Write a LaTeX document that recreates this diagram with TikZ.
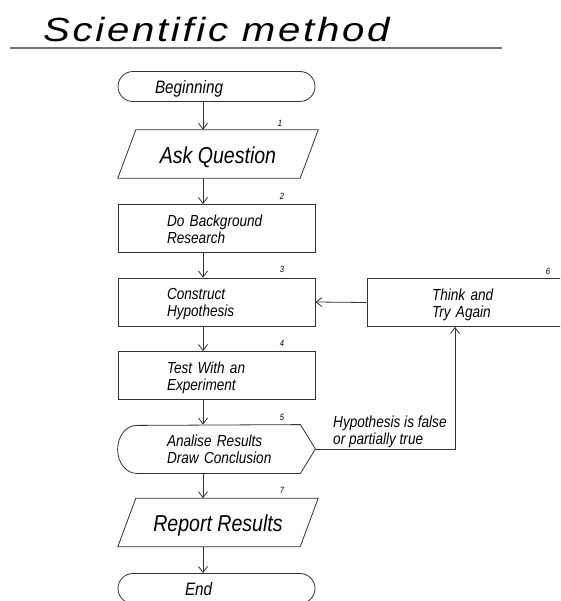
\documentclass[tikz,border=0pt]{standalone}
\usepackage{fontspec}
\setmainfont{Liberation Sans}[FakeStretch=0.85]
\newfontfamily\titlefont{Liberation Sans}[FakeStretch=1.2,LetterSpace=8]
\usetikzlibrary{arrows.meta,calc}
\newcommand{\boxtext}[2]{\hspace*{#1}\raisebox{-3pt}[\height][\depth]{\begin{tabular}[c]{@{}l@{}}#2\end{tabular}}}
\newcommand{\lowtext}[1]{\raisebox{-3pt}[\height][\depth]{#1}}
\tikzset{
  line/.style={draw=black!80, line width=0.8pt},
  proc/.style={draw=black!80, line width=0.8pt, minimum width=197pt, minimum height=48pt,
    text width=197pt, inner xsep=0pt, inner ysep=0pt, align=left,
    font=\itshape\fontsize{16}{17}\selectfont},
  term/.style={proc, rounded corners=15pt, minimum height=30pt,
    font=\itshape\fontsize{18}{20}\selectfont},
  para/.style={minimum width=200pt, minimum height=48pt, inner sep=0pt, align=center,
    font=\itshape\fontsize{23}{26}\selectfont},
  num/.style={font=\itshape\fontsize{9}{10}\selectfont, inner sep=0pt},
  lbl/.style={font=\itshape\fontsize{16}{17}\selectfont, inner sep=0pt, align=left},
  arr/.style={draw=black!80, line width=0.8pt, -{Straight Barb[length=6pt,width=9pt]}}
}
\begin{document}
\begin{tikzpicture}[x=1pt,y=-1pt]
\useasboundingbox (0,0) rectangle (560,601);
\clip (0,0) rectangle (560,601);
\fill[white] (0,0) rectangle (560,601);
% title
\node[anchor=base west, inner sep=0pt, font=\titlefont\itshape\fontsize{33.5}{36}\selectfont] (title) at (43,42) {Scientific method};
\coordinate (ul1) at (10,48);
\coordinate (ul2) at (502,48);
\draw[draw=black!55, line width=1.5pt] (ul1) -- (ul2);
% nodes
\node[term] (beg) at (216.5,86.5) {\boxtext{37pt}{Beginning}};
\node[para] (ask) at (218,154) {\lowtext{Ask Question}};
\draw[line] ([xshift=18pt]ask.north west) -- (ask.north east) -- ([xshift=-18pt]ask.south east) -- (ask.south west) -- cycle;
\node[proc] (dbr) at (216.5,228.5) {\boxtext{49pt}{Do Background\\Research}};
\node[proc] (ch) at (216.5,302) {\boxtext{49pt}{Construct\\Hypothesis}};
\node[proc] (te) at (216.5,375.5) {\boxtext{49pt}{Test With an\\Experiment}};
\node[proc, draw=none] (ar) at (216.5,449) {\boxtext{49pt}{Analise Results\\Draw Conclusion}};
\draw[line] ([xshift=-15pt]ar.north east) -- (ar.east) -- ([xshift=-15pt]ar.south east) -- ([xshift=19pt]ar.south west) arc[start angle=90,end angle=270,x radius=19,y radius=24] -- cycle;
\node[para] (rr) at (218,522.5) {\lowtext{Report Results}};
\draw[line] ([xshift=18pt]rr.north west) -- (rr.north east) -- ([xshift=-18pt]rr.south east) -- (rr.south west) -- cycle;
\node[term] (end) at (216.5,588.5) {\boxtext{67pt}{End}};
\node[proc] (think) at (465.5,302.5) {\boxtext{65pt}{Think and\\Try Again}};
% numbers
\node[num] (n1) at (280,123) {1};
\node[num] (n2) at (282,196) {2};
\node[num] (n3) at (282,269) {3};
\node[num] (n4) at (282,343) {4};
\node[num] (n5) at (282,417) {5};
\node[num] (n6) at (548,271) {6};
\node[num] (n7) at (282,490) {7};
% connectors
\coordinate (spine) at (203,0);
\draw[arr] (beg.south -| spine) -- (ask.north -| spine);
\draw[arr] (ask.south -| spine) -- (dbr.north -| spine);
\draw[arr] (dbr.south -| spine) -- (ch.north -| spine);
\draw[arr] (ch.south -| spine) -- (te.north -| spine);
\draw[arr] (te.south -| spine) -- (ar.north -| spine);
\draw[arr] (ar.south -| spine) -- (rr.north -| spine);
\draw[arr] (rr.south -| spine) -- (end.north -| spine);
\coordinate (bend) at (455,449);
\draw[arr] (ar.east) -- (bend) -- (think.south -| bend);
\draw[arr] (think.west) -- (ch.east);
\node[lbl, anchor=west] (hyp) at (333,431.5) {Hypothesis is false\\or partially true};
\end{tikzpicture}
\end{document}
